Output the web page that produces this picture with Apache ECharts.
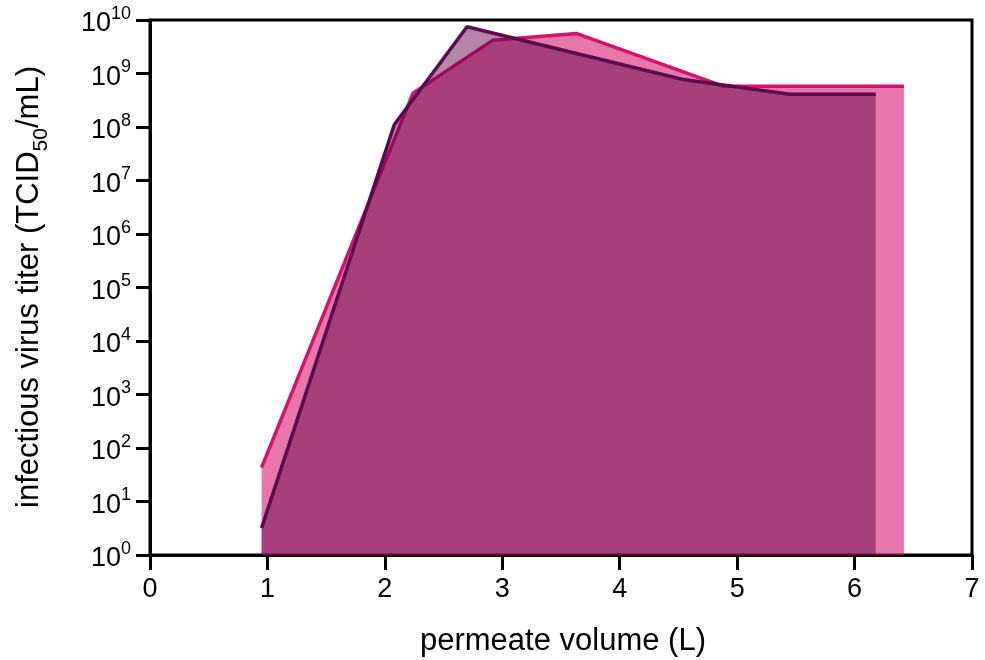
<!DOCTYPE html>
<html><head><meta charset="utf-8">
<script src="https://cdn.jsdelivr.net/npm/echarts@6/dist/echarts.min.js"></script>
<style>html,body{margin:0;padding:0;background:#fff}#c{width:985px;height:660px}</style>
</head><body><div id="c"></div>
<script>
// Data
const pinkX = [0.95, 2.24, 2.92, 3.63, 4.88, 6.42];
const pinkY = [43, 4.3e8, 4.2e9, 5.6e9, 5.8e8, 5.8e8];
const darkX = [0.95, 2.08, 2.70, 4.54, 5.45, 6.18];
const darkY = [3.2, 1.1e8, 7.5e9, 7.7e8, 4.1e8, 4.1e8];
const xTicks = [0, 1, 2, 3, 4, 5, 6, 7];
const yExponents = [0, 1, 2, 3, 4, 5, 6, 7, 8, 9, 10];
const xTitle = 'permeate volume (L)';

const FONT = 'Liberation Sans, Arial, sans-serif';
const chart = echarts.init(document.getElementById('c'), null, {renderer: 'canvas'});
const pair = (xs, ys) => xs.map((x, i) => [x, ys[i]]);

chart.setOption({
  animation: false,
  backgroundColor: '#fff',
  grid: {left: 150, right: 13, top: 20, bottom: 105, show: true, borderColor: '#000', borderWidth: 3, backgroundColor: 'transparent'},
  xAxis: {
    type: 'value', min: xTicks[0], max: xTicks[xTicks.length - 1], interval: 1,
    axisLine: {show: true, lineStyle: {color: '#000', width: 3}},
    axisTick: {show: true, length: 15, lineStyle: {color: '#000', width: 3}},
    axisLabel: {color: '#000', fontSize: 27, fontFamily: FONT, margin: 21},
    splitLine: {show: false}
  },
  yAxis: {
    type: 'log', logBase: 10, min: Math.pow(10, yExponents[0]), max: Math.pow(10, yExponents[yExponents.length - 1]),
    interval: 1, splitNumber: 10,
    axisLine: {show: true, lineStyle: {color: '#000', width: 3}},
    axisTick: {show: true, length: 14, lineStyle: {color: '#000', width: 3}},
    minorTick: {show: false},
    splitLine: {show: false},
    axisLabel: {
      margin: 19,
      formatter: v => '{b|10}{s|' + Math.round(Math.log10(v)) + '}',
      rich: {
        b: {fontSize: 27, fontFamily: FONT, color: '#000', lineHeight: 30, padding: [8, 0, 0, 0]},
        s: {fontSize: 18, fontFamily: FONT, color: '#000', verticalAlign: 'top', lineHeight: 18}
      }
    }
  },
  graphic: [
    {type: 'text', x: 563, y: 641, z: 10, style: {text: xTitle, font: '31px ' + FONT, fill: '#000', align: 'center', verticalAlign: 'middle'}},
    {type: 'text', x: 28, y: 287, rotation: Math.PI / 2, z: 10, style: {
      text: '{a|infectious virus titer (TCID}{sub|50}{a|/mL)}',
      align: 'center', verticalAlign: 'middle',
      rich: {
        a: {fontSize: 31, fontFamily: FONT, fill: '#000', color: '#000', lineHeight: 34, verticalAlign: 'bottom'},
        sub: {fontSize: 21, fontFamily: FONT, fill: '#000', color: '#000', lineHeight: 34, verticalAlign: 'bottom', padding: [0, 0, -7, 0]}
      }
    }}
  ],
  series: [
    {
      type: 'line', data: pair(pinkX, pinkY), showSymbol: false, symbol: 'none', z: 2,
      lineStyle: {color: '#d4126c', width: 3.5},
      areaStyle: {origin: 'start', opacity: 1, color: 'rgba(214,20,110,0.58)'}
    },
    {
      type: 'line', data: pair(darkX, darkY), showSymbol: false, symbol: 'none', z: 3,
      lineStyle: {color: '#5a0a4e', width: 3.5},
      areaStyle: {origin: 'start', opacity: 1, color: 'rgba(96,0,74,0.47)'}
    }
  ]
});
</script></body></html>
